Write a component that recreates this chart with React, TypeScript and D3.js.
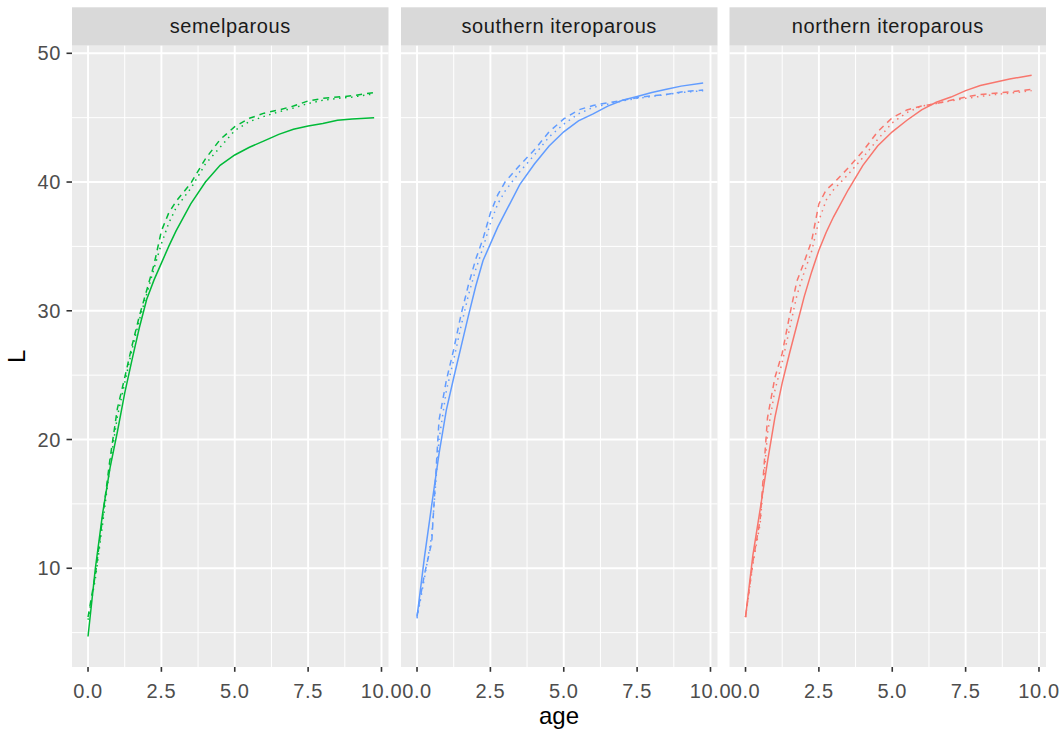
import React from "react";
import * as d3 from "d3";

const panels = ["semelparous", "southern iteroparous", "northern iteroparous"];
const colors = ["#00BA38", "#619CFF", "#F8766D"];

const ages = [0, 0.25, 0.5, 0.75, 1, 1.25, 1.5, 1.75, 2, 2.25, 2.5, 2.75, 3, 3.5, 4, 4.5, 5, 5.5, 6, 6.5, 7, 7.5, 8, 8.5, 9, 9.75];

// semelparous
const semSolid = [4.7, 10.0, 14.3, 17.8, 20.6, 23.6, 26.2, 28.7, 30.9, 32.4, 33.7, 35.0, 36.2, 38.3, 40.0, 41.3, 42.1, 42.7, 43.2, 43.7, 44.1, 44.35, 44.55, 44.8, 44.9, 45.0];
const semDashed = [6.2, 9.5, 14.0, 18.5, 22.4, 24.8, 27.3, 29.6, 31.6, 33.6, 36.2, 37.6, 38.5, 39.9, 41.8, 43.3, 44.3, 44.95, 45.35, 45.6, 45.9, 46.3, 46.5, 46.6, 46.7, 46.95];
const semDotted = [6.0, 9.2, 13.5, 18.0, 21.8, 24.4, 27.0, 29.3, 31.3, 33.3, 35.2, 36.8, 38.0, 39.5, 41.4, 42.7, 44.0, 44.7, 45.1, 45.45, 45.75, 46.1, 46.35, 46.5, 46.6, 46.85];

// southern iteroparous
const souSolid = [6.2, 10.8, 14.9, 18.9, 22.3, 24.8, 27.2, 29.6, 31.9, 33.9, 35.2, 36.5, 37.6, 39.8, 41.4, 42.8, 43.9, 44.75, 45.3, 45.9, 46.35, 46.65, 46.95, 47.2, 47.45, 47.7];
const souDashed = [6.3, 9.5, 12.0, 21.5, 24.6, 27.0, 29.7, 32.0, 34.0, 35.6, 37.6, 39.0, 40.0, 41.3, 42.5, 43.9, 44.9, 45.6, 45.95, 46.15, 46.35, 46.55, 46.7, 46.8, 47.0, 47.15];
const souDotted = [6.1, 9.2, 12.5, 20.0, 23.8, 26.2, 28.8, 31.2, 33.2, 34.9, 36.8, 38.3, 39.3, 40.8, 42.1, 43.5, 44.5, 45.3, 45.8, 46.05, 46.3, 46.5, 46.65, 46.8, 46.95, 47.1];

// northern iteroparous
const norSolid = [6.2, 11.0, 14.6, 18.3, 21.7, 24.4, 26.7, 28.9, 31.1, 33.0, 34.7, 36.1, 37.3, 39.4, 41.3, 42.8, 43.9, 44.8, 45.6, 46.2, 46.6, 47.1, 47.5, 47.75, 48.0, 48.3];
const norDashed = [6.2, 10.5, 13.8, 21.7, 24.8, 26.7, 29.6, 32.3, 33.8, 35.4, 38.3, 39.4, 39.9, 41.1, 42.4, 43.9, 45.0, 45.6, 45.9, 46.1, 46.35, 46.6, 46.8, 46.9, 47.0, 47.2];
const norDotted = [6.2, 10.3, 13.5, 20.5, 23.8, 26.0, 28.6, 31.2, 33.0, 34.6, 37.0, 38.6, 39.4, 40.6, 41.9, 43.3, 44.6, 45.4, 45.9, 46.1, 46.3, 46.5, 46.65, 46.8, 46.9, 47.1];

const panelSeries = [
  [semSolid, semDashed, semDotted],
  [souSolid, souDashed, souDotted],
  [norSolid, norDashed, norDotted],
];
const lineTypes = ["solid", "dashed", "dotted"];

const xTicks = [0, 2.5, 5, 7.5, 10];
const xMinor = [1.25, 3.75, 6.25, 8.75];
const yTicks = [10, 20, 30, 40, 50];
const yMinor = [5, 15, 25, 35, 45];

const FONT = "'Liberation Sans', Arial, sans-serif";

export default function App() {
  const W = 1060, H = 731;
  const panelLefts = [72, 401, 729.5];
  const panelW = 316.5;
  const top = 45.7, bottom = 667;
  const stripTop = 7.3;

  const y = d3.scaleLinear().domain([2.33, 50.59]).range([bottom, top]);
  const dashFor = (t: string) => (t === "dashed" ? "6,5" : t === "dotted" ? "1.5,4.5" : undefined);

  return (
    <svg width={W} height={H} style={{ position: "absolute", left: 0, top: 0, background: "#fff" }} fontFamily={FONT}>
      <rect x={0} y={0} width={W} height={H} fill="#fff" />
      {panels.map((name, pi) => {
        const left = panelLefts[pi];
        const x = d3.scaleLinear().domain([-0.546, 10.239]).range([left, left + panelW]);
        const line = d3
          .line<number>()
          .x((_, i) => x(ages[i]))
          .y((v) => y(v));
        return (
          <g key={name}>
            <rect x={left} y={stripTop} width={panelW} height={top - stripTop} fill="#D9D9D9" />
            <text x={left + panelW / 2} y={33} textAnchor="middle" fontSize={20} letterSpacing={0.6} fill="#1A1A1A">
              {name}
            </text>
            <rect x={left} y={top} width={panelW} height={bottom - top} fill="#EBEBEB" />
            {yMinor.map((v) => (
              <line key={"ym" + v} x1={left} x2={left + panelW} y1={y(v)} y2={y(v)} stroke="#fff" strokeWidth={1} />
            ))}
            {xMinor.map((v) => (
              <line key={"xm" + v} x1={x(v)} x2={x(v)} y1={top} y2={bottom} stroke="#fff" strokeWidth={1} />
            ))}
            {yTicks.map((v) => (
              <line key={"yM" + v} x1={left} x2={left + panelW} y1={y(v)} y2={y(v)} stroke="#fff" strokeWidth={1.9} />
            ))}
            {xTicks.map((v) => (
              <line key={"xM" + v} x1={x(v)} x2={x(v)} y1={top} y2={bottom} stroke="#fff" strokeWidth={1.9} />
            ))}
            {panelSeries[pi].map((vals, si) => (
              <path
                key={si}
                d={line(vals) || ""}
                fill="none"
                stroke={colors[pi]}
                strokeWidth={1.5}
                strokeDasharray={dashFor(lineTypes[si])}
              />
            ))}
            {xTicks.map((v) => (
              <g key={"xt" + v}>
                <line x1={x(v)} x2={x(v)} y1={bottom} y2={bottom + 4.8} stroke="#333" strokeWidth={1.6} />
                <text x={x(v)} y={698} textAnchor="middle" fontSize={20} letterSpacing={0.6} fill="#4D4D4D">
                  {d3.format(".1f")(v)}
                </text>
              </g>
            ))}
          </g>
        );
      })}
      {yTicks.map((v) => (
        <g key={"yt" + v}>
          <line x1={66.5} x2={72} y1={y(v)} y2={y(v)} stroke="#333" strokeWidth={1.6} />
          <text x={61} y={y(v) + 7} textAnchor="end" fontSize={20} letterSpacing={0.6} fill="#4D4D4D">
            {v}
          </text>
        </g>
      ))}
      <text x={559} y={724} textAnchor="middle" fontSize={24} fill="#000">
        age
      </text>
      <text transform={`translate(25,${(top + bottom) / 2}) rotate(-90)`} textAnchor="middle" fontSize={24} fill="#000">
        L
      </text>
    </svg>
  );
}
